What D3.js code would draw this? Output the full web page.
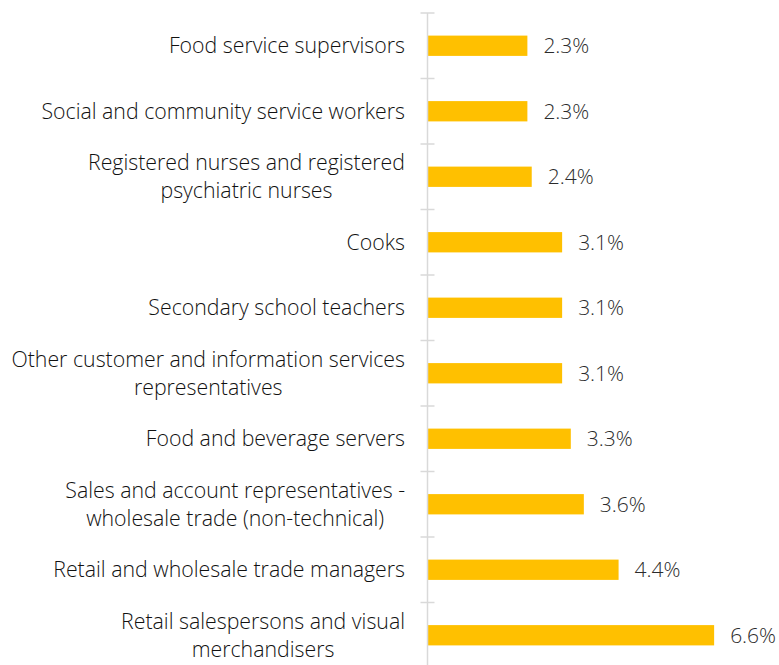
<!DOCTYPE html>
<html>
<meta charset="utf-8">
<head>
  <title>Occupations bar chart</title>
</head>
<style>
body { margin: 0; background: white; }
text { font-family: "Open Sans", sans-serif; }
.cat { font-size: 21.3px; font-weight: 300; fill: #111; }
.val { font-size: 21px; font-weight: 300; fill: #2b2b2b; }
</style>
<body>
  <div id="chart"></div>
  <script src="https://d3js.org/d3.v7.min.js"></script>
  <script>

var categories = [
  ['Food service supervisors'],
  ['Social and community service workers'],
  ['Registered nurses and registered', 'psychiatric nurses'],
  ['Cooks'],
  ['Secondary school teachers'],
  ['Other customer and information services', 'representatives'],
  ['Food and beverage servers'],
  ['Sales and account representatives -', 'wholesale trade (non-technical)'],
  ['Retail and wholesale trade managers'],
  ['Retail salespersons and visual', 'merchandisers']
];
var values = [2.3, 2.3, 2.4, 3.1, 3.1, 3.1, 3.3, 3.6, 4.4, 6.6];
var valueLabels = ['2.3%', '2.3%', '2.4%', '3.1%', '3.1%', '3.1%', '3.3%', '3.6%', '4.4%', '6.6%'];

var width = 779, height = 665;
var axisX = 427.5;

var svg = d3.select('#chart')
  .append('svg')
  .attr('width', width)
  .attr('height', height);

var y = d3.scaleBand()
  .domain(d3.range(values.length))
  .range([13, 668])
  .paddingInner(0.69)
  .paddingOuter(0.345);

var x = d3.scaleLinear()
  .domain([0, 7])
  .range([axisX, axisX + 304]);

// bars
svg.selectAll('rect.bar')
  .data(values)
  .enter()
  .append('rect')
  .attr('class', 'bar')
  .attr('x', x(0))
  .attr('y', function(d, i) { return y(i); })
  .attr('width', function(d) { return x(d) - x(0); })
  .attr('height', y.bandwidth())
  .attr('fill', '#FFC000');

// axis line + ticks between categories
var step = y.step();
svg.append('line')
  .attr('x1', axisX).attr('x2', axisX)
  .attr('y1', 13).attr('y2', 668)
  .attr('stroke', '#d9d9d9')
  .attr('stroke-width', 1.5);

svg.selectAll('line.tick')
  .data(d3.range(values.length))
  .enter()
  .append('line')
  .attr('class', 'tick')
  .attr('x1', axisX - 7).attr('x2', axisX + 7)
  .attr('y1', function(d) { return 13 + d * step; })
  .attr('y2', function(d) { return 13 + d * step; })
  .attr('stroke', '#d9d9d9')
  .attr('stroke-width', 1.5);

// value labels
svg.selectAll('text.val')
  .data(values)
  .enter()
  .append('text')
  .attr('class', 'val')
  .attr('x', function(d) { return x(d) + 16; })
  .attr('y', function(d, i) { return y(i) + y.bandwidth() / 2; })
  .attr('dy', '0.36em')
  .text(function(d, i) { return valueLabels[i]; });

// category labels (wrapped lines centred on each other, right aligned block)
var labelRight = 405;
var lineH = 28;
categories.forEach(function(lines, i) {
  var g = svg.append('g');
  var cy = y(i) + y.bandwidth() / 2;
  var texts = lines.map(function(t, j) {
    return g.append('text')
      .attr('class', 'cat')
      .attr('y', cy + (j - (lines.length - 1) / 2) * lineH)
      .attr('dy', '0.36em')
      .text(t);
  });
  var maxW = d3.max(texts, function(t) { return t.node().getComputedTextLength(); });
  texts.forEach(function(t) {
    t.attr('x', labelRight - maxW / 2).attr('text-anchor', 'middle');
  });
});

  </script>
</body>
</html>
